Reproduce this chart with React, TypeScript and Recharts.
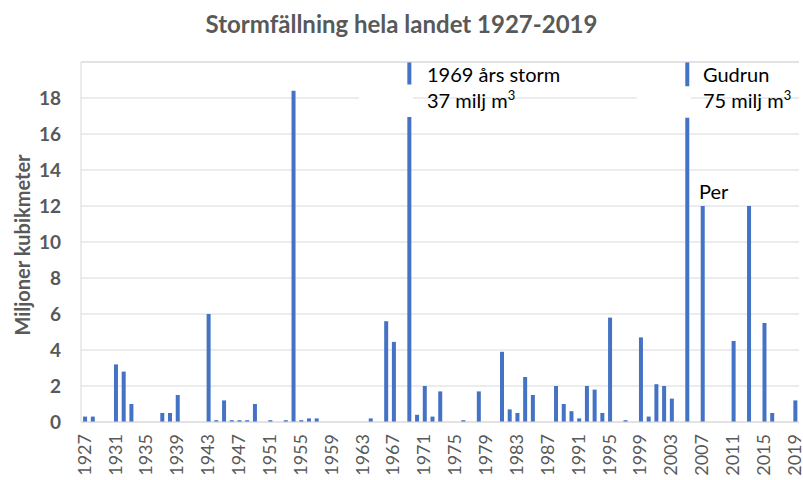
import React from "react"
import {
    BarChart,
    Bar,
    XAxis,
    YAxis,
    CartesianGrid,
    ReferenceLine,
    ReferenceArea,
} from "recharts"

// Stormfällning per år, miljoner m3 (1969 = 37, 2005 = 75 går utanför skalan)
const years = [
    "1927", "1928", "1929", "1930", "1931", "1932", "1933", "1934", "1935", "1936",
    "1937", "1938", "1939", "1940", "1941", "1942", "1943", "1944", "1945", "1946",
    "1947", "1948", "1949", "1950", "1951", "1952", "1953", "1954", "1955", "1956",
    "1957", "1958", "1959", "1960", "1961", "1962", "1963", "1964", "1965", "1966",
    "1967", "1968", "1969", "1970", "1971", "1972", "1973", "1974", "1975", "1976",
    "1977", "1978", "1979", "1980", "1981", "1982", "1983", "1984", "1985", "1986",
    "1987", "1988", "1989", "1990", "1991", "1992", "1993", "1994", "1995", "1996",
    "1997", "1998", "1999", "2000", "2001", "2002", "2003", "2004", "2005", "2006",
    "2007", "2008", "2009", "2010", "2011", "2012", "2013", "2014", "2015", "2016",
    "2017", "2018", "2019",
]

const volumes = [
    0.3, 0.3, 0, 0, 3.2, 2.8, 1.0, 0, 0, 0,
    0.5, 0.5, 1.5, 0, 0, 0, 6.0, 0.1, 1.2, 0.1,
    0.1, 0.1, 1.0, 0, 0.1, 0, 0.1, 18.4, 0.1, 0.2,
    0.2, 0, 0, 0, 0, 0, 0, 0.2, 0, 5.6,
    4.45, 0, 37, 0.4, 2.0, 0.3, 1.7, 0, 0, 0.1,
    0, 1.7, 0, 0, 3.9, 0.7, 0.5, 2.5, 1.5, 0,
    0, 2.0, 1.0, 0.6, 0.2, 2.0, 1.8, 0.5, 5.8, 0,
    0.1, 0, 4.7, 0.3, 2.1, 2.0, 1.3, 0, 75, 0,
    12, 0, 0, 0, 4.5, 0, 12, 0, 5.5, 0.5,
    0, 0, 1.2,
]

const xTicks = [
    "1927", "1931", "1935", "1939", "1943", "1947", "1951", "1955", "1959", "1963",
    "1967", "1971", "1975", "1979", "1983", "1987", "1991", "1995", "1999", "2003",
    "2007", "2011", "2015", "2019",
]
const yTicks = [0, 2, 4, 6, 8, 10, 12, 14, 16, 18]

const data = years.map((year, i) => ({ year, value: volumes[i] }))

const FONT = "Lato, 'Open Sans', sans-serif"
const GREY = "#595959"
const GRID = "#d9d9d9"

function YearTick(props: any) {
    const { x, y, payload } = props
    return (
        <text
            transform={`translate(${x},${y + 4}) rotate(-90)`}
            textAnchor="end"
            dy="0.32em"
            fill={GREY}
            fontSize={18}
            fontFamily={FONT}
        >
            {payload.value}
        </text>
    )
}

const note: React.CSSProperties = {
    position: "absolute",
    fontFamily: FONT,
    fontSize: 20,
    color: "#000",
    lineHeight: 1,
    whiteSpace: "nowrap",
}

const sup: React.CSSProperties = { fontSize: 13, verticalAlign: 8, lineHeight: 0 }

export default function App() {
    return (
        <div style={{ position: "absolute", left: 0, top: 0, width: 803, height: 480, background: "#fff" }}>
            <div
                style={{
                    position: "absolute",
                    left: 0,
                    width: 803,
                    top: 9,
                    textAlign: "center",
                    fontFamily: FONT,
                    fontWeight: 700,
                    fontSize: 24,
                    color: GREY,
                }}
            >
                Stormfällning hela landet 1927-2019
            </div>
            <div
                style={{
                    position: "absolute",
                    left: 22,
                    top: 245,
                    transform: "translate(-50%, -50%) rotate(-90deg)",
                    fontFamily: FONT,
                    fontWeight: 700,
                    fontSize: 20,
                    color: GREY,
                    whiteSpace: "nowrap",
                }}
            >
                Miljoner kubikmeter
            </div>

            <BarChart
                width={803}
                height={480}
                data={data}
                margin={{ top: 62, right: 4, bottom: 0, left: 0 }}
                barCategoryGap="27%"
                style={{ position: "absolute", left: 0, top: 0 }}
            >
                <CartesianGrid vertical={false} stroke={GRID} />
                <XAxis
                    dataKey="year"
                    ticks={xTicks}
                    interval={0}
                    height={58}
                    tick={<YearTick />}
                    tickLine={false}
                    axisLine={{ stroke: GRID }}
                />
                <YAxis
                    width={81}
                    domain={[0, 20]}
                    allowDataOverflow
                    ticks={yTicks}
                    tickLine={false}
                    tickMargin={14}
                    axisLine={{ stroke: GRID }}
                    tick={{ fill: GREY, fontSize: 19, fontWeight: 700, fontFamily: FONT }}
                />
                <ReferenceLine y={20} stroke={GRID} />
                <Bar dataKey="value" fill="#4472c4" isAnimationActive={false} />
                <ReferenceArea x1="1963" x2="1969" y1={16.95} y2={18.75} fill="#fff" fillOpacity={1} stroke="none" zIndex={1500} />
                <ReferenceArea x1="1999" x2="2005" y1={16.9} y2={18.65} fill="#fff" fillOpacity={1} stroke="none" zIndex={1500} />
            </BarChart>

            <div style={{ ...note, left: 427, top: 64 }}>1969 års storm</div>
            <div style={{ ...note, left: 427, top: 90 }}>37 milj m<span style={sup}>3</span></div>
            <div style={{ ...note, left: 703, top: 64 }}>Gudrun</div>
            <div style={{ ...note, left: 703, top: 90 }}>75 milj m<span style={sup}>3</span></div>
            <div style={{ ...note, left: 699, top: 181 }}>Per</div>
        </div>
    )
}
